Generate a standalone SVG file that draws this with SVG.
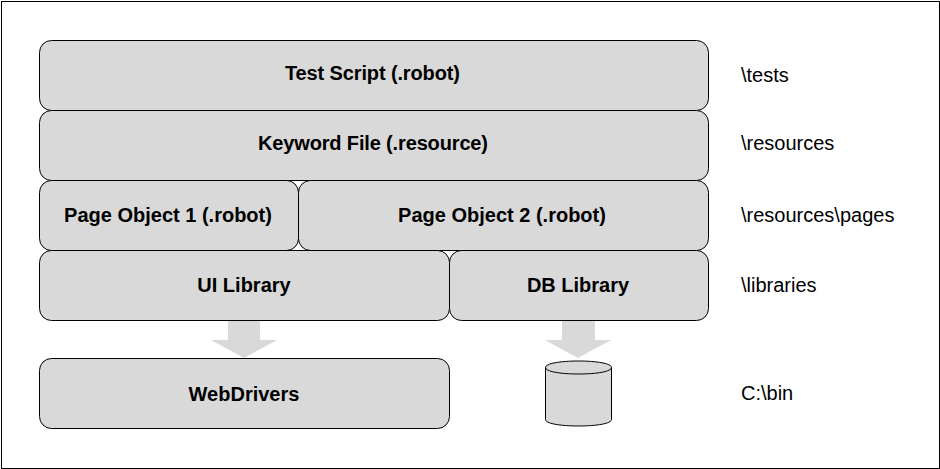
<svg xmlns="http://www.w3.org/2000/svg" width="940" height="469" viewBox="0 0 940 469">
<style>
.b{fill:#d9d9d9;stroke:#000;stroke-width:1}
.t{font:bold 20px "Liberation Sans",Arial,sans-serif;text-anchor:middle;fill:#000}
.l{font:20px "Liberation Sans",Arial,sans-serif;fill:#000}
.a{fill:#d9d9d9;stroke:none}
</style>
<rect x="0" y="0" width="940" height="469" fill="#fff"/>
<rect id="frame" x="1.500" y="1.500" width="938" height="467" fill="#fff" stroke="#000" stroke-width="1"/>
<g id="connectors">
<path class="a" d="M228 320h32v20h17l-33 18l-33-18h17z"/>
<path class="a" d="M562 320h33v20h16l-33 18l-33-18h17z"/>
</g>
<g id="test-script"><rect class="b" x="39.500" y="40.500" width="669" height="70" rx="12"/><text class="t" x="372.500" y="80" textLength="175">Test Script (.robot)</text></g>
<g id="keyword-file"><rect class="b" x="39.500" y="110.500" width="669" height="70" rx="12"/><text class="t" x="373" y="150" textLength="230">Keyword File (.resource)</text></g>
<g id="page-object-1"><rect class="b" x="39.500" y="180.500" width="259" height="70" rx="12"/><text class="t" x="168" y="222">Page Object 1 (.robot)</text></g>
<g id="page-object-2"><rect class="b" x="298.500" y="180.500" width="410" height="70" rx="12"/><text class="t" x="502" y="222">Page Object 2 (.robot)</text></g>
<g id="ui-library"><rect class="b" x="39.500" y="250.500" width="410" height="70" rx="12"/><text class="t" x="244" y="292">UI Library</text></g>
<g id="db-library"><rect class="b" x="449.500" y="250.500" width="259" height="70" rx="12"/><text class="t" x="578" y="292">DB Library</text></g>
<g id="webdrivers"><rect class="b" x="39.500" y="358.500" width="410" height="70" rx="12"/><text class="t" x="244" y="401">WebDrivers</text></g>
<g id="database"><path class="b" d="M545.500 367.500v52c0 4 14.500 6.500 33 6.500s33-2.500 33-6.500v-52c0-4-14.500-6.500-33-6.500s-33 2.500-33 6.500c0 4 14.500 6.500 33 6.500s33-2.500 33-6.500"/></g>
<g id="labels">
<text class="l" x="741" y="82">\tests</text>
<text class="l" x="741" y="150">\resources</text>
<text class="l" x="741" y="222">\resources\pages</text>
<text class="l" x="741" y="292">\libraries</text>
<text class="l" x="741" y="400">C:\bin</text>
</g>
</svg>
